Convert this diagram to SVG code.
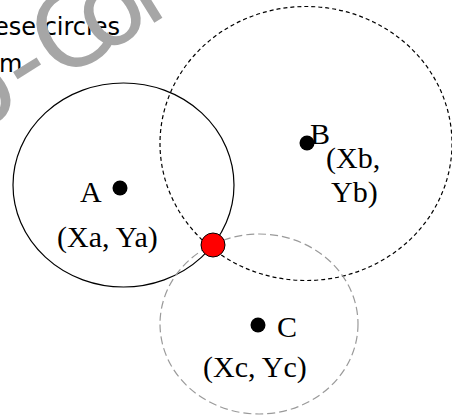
<svg xmlns="http://www.w3.org/2000/svg" width="452" height="415" viewBox="0 0 452 415">
<style>
.bg{fill:#ffffff}
.ring{fill:none;stroke-width:1.2}
.ra{stroke:#000}
.rb{stroke:#000;stroke-dasharray:4 3}
.rc{stroke:#9a9a9a;stroke-dasharray:8 4}
.dot{fill:#000}
.lbl{font-family:"Liberation Serif","Times New Roman",serif;font-size:30px;fill:#000}
.cap{font-family:"DejaVu Sans",Verdana,sans-serif;font-size:24px;fill:#000}
.wm{font-family:"DejaVu Sans",Verdana,sans-serif;font-size:105px;fill:#a6a6a6}
</style>
<rect class="bg" x="0" y="0" width="452" height="415"/>
<g id="caption">
<text class="cap" x="-6" y="35">ese circles</text>
<text class="cap" x="-1" y="72">m.</text>
</g>
<g id="circle-a"><ellipse class="ring ra" cx="123.5" cy="185" rx="110.5" ry="102"/></g>
<g id="circle-b"><ellipse class="ring rb" cx="306" cy="143.5" rx="146" ry="137"/></g>
<g id="circle-c"><ellipse class="ring rc" cx="259" cy="324" rx="99" ry="90"/></g>
<g id="point-a">
<circle class="dot" cx="120" cy="188" r="7.5"/>
<text class="lbl" x="80" y="202">A</text>
<text class="lbl" x="57" y="247">(Xa, Ya)</text>
</g>
<g id="point-b">
<circle class="dot" cx="307" cy="143" r="7.5"/>
<text class="lbl" x="310" y="144">B</text>
<text class="lbl" x="326" y="168">(Xb,</text>
<text class="lbl" x="331" y="202">Yb)</text>
</g>
<g id="point-c">
<circle class="dot" cx="258" cy="325" r="7.5"/>
<text class="lbl" x="277" y="337">C</text>
<text class="lbl" x="203" y="377">(Xc, Yc)</text>
</g>
<g id="intersection"><circle cx="213" cy="245" r="12" fill="#ff0000" stroke="#000" stroke-width="1"/></g>
<g id="watermark"><text class="wm" x="0" y="0" transform="translate(-29.9,137.8) rotate(-32)">o-<tspan dx="1">C</tspan><tspan dx="-25">o</tspan><tspan dx="-10">r</tspan></text></g>
</svg>
